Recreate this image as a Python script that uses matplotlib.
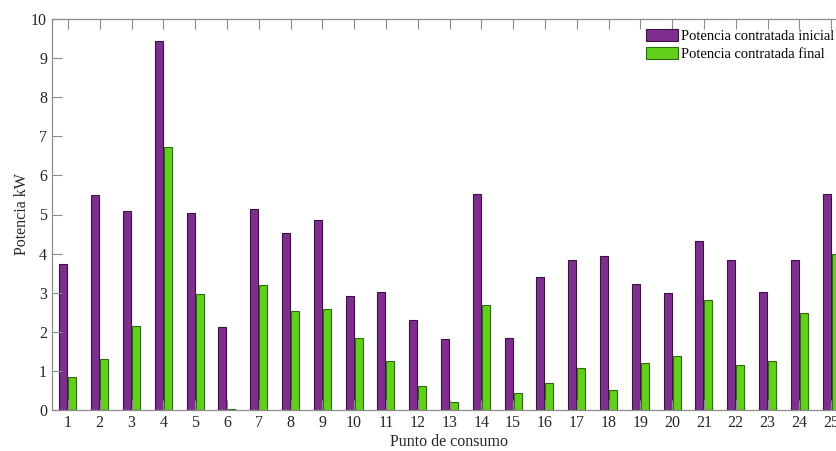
import numpy as np
import matplotlib
matplotlib.use('Agg')
import matplotlib.pyplot as plt

# potencia contratada por punto de consumo (kW)
puntos = np.arange(1, 26)
inicial = [3.74, 5.50, 5.08, 9.44, 5.03, 2.12, 5.14, 4.53, 4.86, 2.92,
           3.03, 2.31, 1.82, 5.53, 1.84, 3.40, 3.83, 3.95, 3.21, 2.99,
           4.32, 3.84, 3.02, 3.84, 5.53]
final = [0.85, 1.30, 2.15, 6.73, 2.97, 0.02, 3.20, 2.53, 2.59, 1.84,
         1.26, 0.62, 0.20, 2.69, 0.43, 0.69, 1.07, 0.50, 1.19, 1.38,
         2.82, 1.15, 1.26, 2.47, 4.00]
nombres = ['Potencia contratada inicial', 'Potencia contratada final']

plt.rcParams['font.family'] = ['Liberation Serif', 'DejaVu Serif']

fig = plt.figure(figsize=(8.37, 4.51), dpi=100)
ax = fig.add_axes([52 / 837, 41 / 451, 795 / 837, 391 / 451])

w = 0.25
off = 0.14
ax.bar(puntos - off, inicial, w, color='#7E2F8E', edgecolor='#3a1240', linewidth=0.8, label=nombres[0])
ax.bar(puntos + off, final, w, color='#62D01A', edgecolor='#2f6a10', linewidth=0.8, label=nombres[1])

ax.set_xlim(0.5, 25.5)
ax.set_ylim(0, 10)
ax.set_xticks(puntos)
ax.set_yticks(np.arange(0, 11, 1))

for s in ax.spines.values():
    s.set_color('#8c8c8c')
    s.set_linewidth(0.9)
ax.tick_params(direction='in', length=7, width=0.8, color='#8c8c8c',
               labelcolor='#262626', labelsize=11.5, top=True, right=True)

ax.set_xlabel('Punto de consumo', fontsize=11.5, color='#262626', labelpad=2)
ax.set_ylabel('Potencia kW', fontsize=11.5, color='#262626', labelpad=1)

ax.legend(loc='upper left', bbox_to_anchor=(646 / 837, (451 - 29) / 451),
          bbox_transform=fig.transFigure, frameon=False, fontsize=10.5,
          handlelength=2.2, handleheight=0.9, handletextpad=0.2,
          labelspacing=0.25, borderpad=0, borderaxespad=0)

fig.savefig('out.png', dpi=100)
